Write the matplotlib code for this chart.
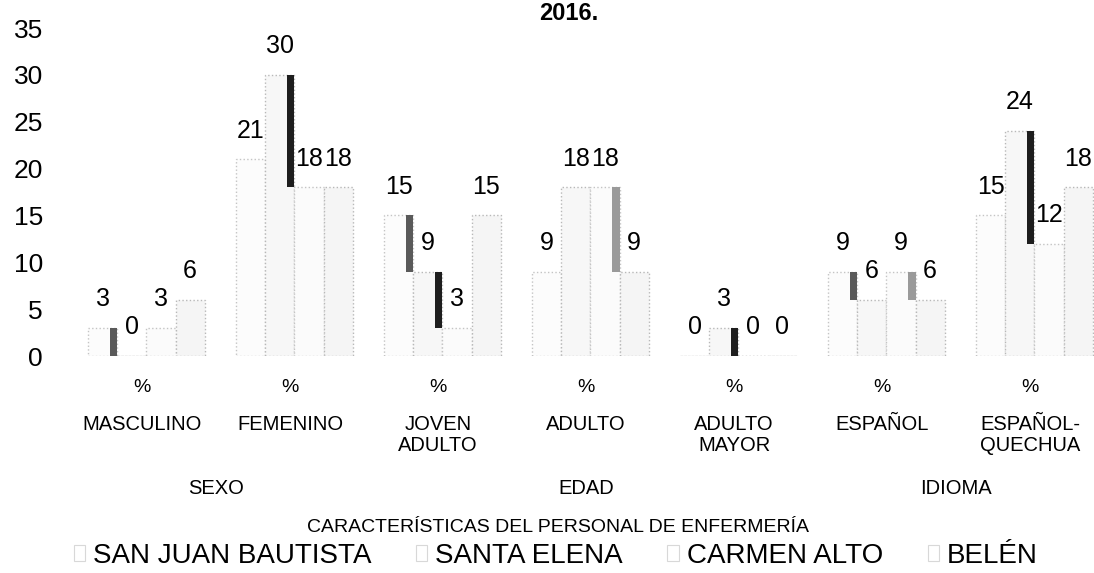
import matplotlib
matplotlib.use("Agg")
import matplotlib.pyplot as plt
from matplotlib.patches import Patch
from matplotlib.transforms import blended_transform_factory
import numpy as np

plt.rcParams['font.family'] = ['Liberation Sans', 'DejaVu Sans']

# ---- data ----
categories = ["MASCULINO", "FEMENINO", "JOVEN\nADULTO", "ADULTO", "ADULTO\nMAYOR",
              "ESPAÑOL", "ESPAÑOL-\nQUECHUA"]
groups = ["SEXO", "EDAD", "IDIOMA"]
group_pos = [0.5, 3.0, 5.5]
series_names = ["SAN JUAN BAUTISTA", "SANTA ELENA", "CARMEN ALTO", "BELÉN"]
san_juan = [3, 21, 15, 9, 0, 9, 15]
santa_elena = [0, 30, 9, 18, 3, 6, 24]
carmen_alto = [3, 18, 3, 18, 0, 9, 12]
belen = [6, 18, 15, 9, 0, 6, 18]
series = [san_juan, santa_elena, carmen_alto, belen]
yticks = [0, 5, 10, 15, 20, 25, 30, 35]
title = "2016."
xlabel = "CARACTERÍSTICAS DEL PERSONAL DE ENFERMERÍA"

# ---- styling ----
face = ["#fcfcfc", "#f7f7f7", "#fbfbfb", "#f5f5f5"]
edge = ["#c4c4c4", "#b8b8b8", "#c4c4c4", "#b8b8b8"]
side = ["#5a5a5a", "#1e1e1e", "#9a9a9a"]
w = 0.197
shift = 0.03
offsets = [shift + k * w for k in (-1.5, -0.5, 0.5, 1.5)]

fig = plt.figure(figsize=(10.94, 5.73), dpi=100)
ax = fig.add_axes([68 / 1094, 1 - 356 / 573, 1036 / 1094, 328 / 573])
x = np.arange(len(categories))

for i, vals in enumerate(series):
    ax.bar(x + offsets[i], vals, width=w, color=face[i], edgecolor=edge[i],
           linewidth=1.0, linestyle=":", zorder=2)
    for xi, v in zip(x, vals):
        ax.annotate(str(v), (xi + offsets[i], v), xytext=(0, 12),
                    textcoords="offset points", ha="center", va="bottom",
                    fontsize=18, color="black", zorder=5)

# darker side faces (visible where a bar stands taller than its right neighbour)
sw = 0.05
for i in range(3):
    a = np.array(series[i])
    b = np.array(series[i + 1])
    diff = np.clip(a - b, 0, None)
    ax.bar(x + offsets[i] + w / 2 - sw / 2, diff, bottom=b, width=sw,
           color=side[i], linewidth=0, zorder=3)

ax.set_xlim(-0.5, 6.5)
ax.set_ylim(0, 35)
ax.set_yticks(yticks)
ax.set_yticklabels([str(t) for t in yticks], fontsize=19)
ax.tick_params(axis="y", length=0, pad=18)
ax.set_xticks([])
for s in ax.spines.values():
    s.set_visible(False)

tr = blended_transform_factory(ax.transData, fig.transFigure)
for xi, name in zip(x, categories):
    fig.text(xi, 1 - 388 / 573, "%", transform=tr, ha="center", va="center",
             fontsize=14)
    fig.text(xi, 1 - 415 / 573, name, transform=tr, ha="center", va="top",
             fontsize=14.5, linespacing=1.15)
for gp, g in zip(group_pos, groups):
    fig.text(gp, 1 - 489 / 573, g, transform=tr, ha="center", va="center",
             fontsize=14.5)
fig.text(0.51, 1 - 527 / 573, xlabel, ha="center", va="center", fontsize=14)
fig.text(0.52, 1 - 13 / 573, title, ha="center", va="center",
         fontsize=17, fontweight="bold")

handles = [Patch(facecolor="white", edgecolor="#d8d8d8", linewidth=0.8)
           for i in range(4)]
fig.legend(handles, series_names, loc="center", bbox_to_anchor=(0.508, 1 - 556 / 573),
           ncol=4, frameon=False, fontsize=20, handlelength=0.4, handleheight=0.5,
           handletextpad=0.3, columnspacing=1.6, borderpad=0.1)

fig.savefig("out.png", dpi=100, facecolor="white")
